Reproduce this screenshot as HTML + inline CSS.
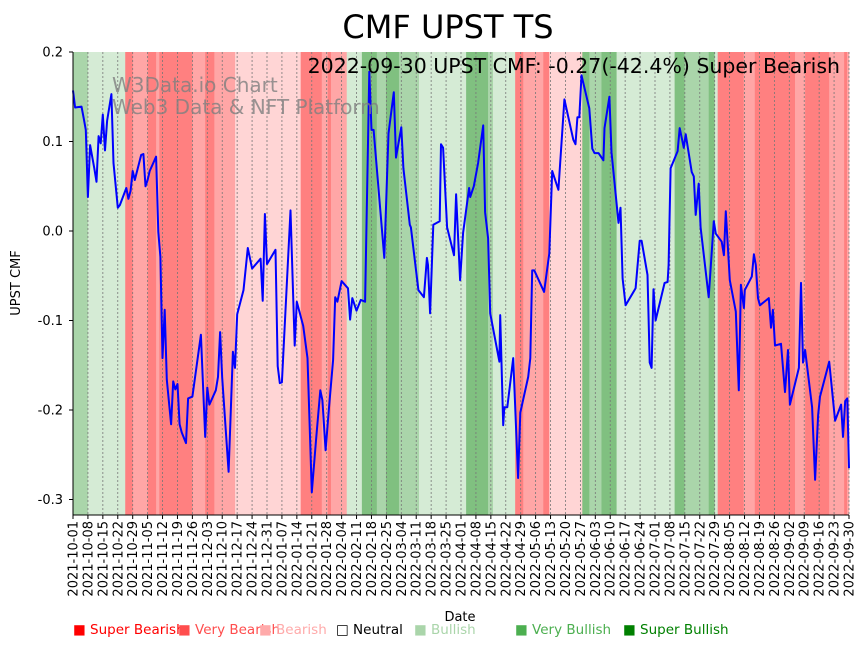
<!DOCTYPE html>
<html><head><meta charset="utf-8"><style>
body{margin:0;background:#fff;width:864px;height:646px;overflow:hidden;font-family:"Liberation Sans","DejaVu Sans",sans-serif}
svg text{font-family:"DejaVu Sans","Liberation Sans",sans-serif}
</style></head><body>
<svg id="chart" width="864" height="646" xmlns="http://www.w3.org/2000/svg">
<g id="bands"></g><g id="grid"></g><g id="line"></g><g id="axes"></g>
<text x="448" y="38" text-anchor="middle" font-size="32">CMF UPST TS</text>
<text x="840" y="73" text-anchor="end" font-size="20.5">2022-09-30 UPST CMF: -0.27(-42.4%) Super Bearish</text>
<text x="112" y="92" font-size="20" fill="#808080" fill-opacity="0.8">W3Data.io Chart</text>
<text x="112" y="114" font-size="20" fill="#808080" fill-opacity="0.8">Web3 Data &amp; NFT Platform</text>
<text transform="translate(20,283) rotate(-90)" text-anchor="middle" font-size="13">UPST CMF</text>
<text x="460" y="621" text-anchor="middle" font-size="13">Date</text>
<g id="legend" font-size="13.5"></g>
</svg>
<script>
const days=[0,1,4,5,6,7,8,10,11,12,13,14,15,16,18,19,21,22,25,26,27,28,29,32,33,34,35,36,39,40,41,42,43,44,46,47,48,49,50,51,53,54,56,60,62,63,64,67,68,69,70,73,75,76,77,80,82,84,88,89,90,91,95,96,97,98,102,104,105,108,110,112,114,116,117,118.5,120,122,123,124,126,129,130,131,133,135,137,139,140,141,146,148,150.5,151.5,154,155,158,158.5,162,164.6,166,166.5,167.5,169,172,172.6,173.6,175.5,178.7,179.7,181.6,183,185.8,186.3,188,190,192.4,193.3,194.7,195.7,200,200.4,201.8,202.3,203.7,206.5,208.8,209.8,213.5,214.5,215.4,216.4,221,223.4,224.8,227.7,230.5,234.7,235.7,236.6,237.5,238.5,242.2,243.6,244.6,246.5,248.8,249.3,251.6,252.6,255.9,256.8,257.8,259.2,263.9,265.8,266.7,269.5,270.5,271.4,272.3,273.3,277.5,278.9,279.4,280.3,283.6,284.6,286.5,287.4,290.2,291.2,292.1,293.5,294.4,298.2,300.6,301.5,304.3,305.3,306.2,308.1,310.9,312.3,313.3,314.7,315.1,318.4,319.4,320.3,321.3,322.2,326.4,327.4,328.3,329.3,332.1,334,335.4,336.3,340.5,341.5,342.4,343.4,346.7,348.1,349.5,350.4,354.7,357.5,360.3,361.2,362.2,363.2,364];
const cmf=[0.157,0.138,0.139,0.126,0.113,0.038,0.096,0.070,0.055,0.106,0.098,0.130,0.090,0.123,0.153,0.076,0.026,0.029,0.048,0.036,0.045,0.067,0.057,0.085,0.086,0.050,0.057,0.067,0.083,-0.001,-0.029,-0.142,-0.088,-0.166,-0.216,-0.168,-0.177,-0.171,-0.216,-0.225,-0.237,-0.187,-0.185,-0.116,-0.230,-0.175,-0.194,-0.178,-0.163,-0.113,-0.164,-0.269,-0.135,-0.153,-0.093,-0.066,-0.019,-0.042,-0.031,-0.078,0.019,-0.037,-0.021,-0.151,-0.170,-0.169,0.023,-0.128,-0.079,-0.106,-0.142,-0.292,-0.234,-0.178,-0.189,-0.245,-0.200,-0.144,-0.074,-0.079,-0.056,-0.064,-0.099,-0.075,-0.089,-0.077,-0.079,0.178,0.113,0.113,-0.030,0.109,0.155,0.082,0.116,0.070,0.007,0.004,-0.066,-0.074,-0.030,-0.038,-0.092,0.007,0.011,0.097,0.093,0.004,-0.027,0.041,-0.055,-0.002,0.048,0.038,0.050,0.076,0.118,0.021,-0.008,-0.092,-0.146,-0.094,-0.217,-0.197,-0.197,-0.142,-0.276,-0.203,-0.163,-0.142,-0.044,-0.044,-0.068,-0.025,0.067,0.046,0.147,0.102,0.097,0.127,0.127,0.174,0.137,0.092,0.087,0.087,0.079,0.115,0.150,0.088,0.009,0.026,-0.053,-0.083,-0.064,-0.011,-0.011,-0.049,-0.147,-0.153,-0.065,-0.100,-0.058,-0.057,-0.038,0.070,0.089,0.115,0.093,0.108,0.066,0.061,0.018,0.053,0.004,-0.074,0.011,-0.003,-0.012,-0.027,0.022,-0.055,-0.090,-0.178,-0.060,-0.086,-0.066,-0.051,-0.026,-0.038,-0.075,-0.083,-0.075,-0.108,-0.088,-0.128,-0.126,-0.180,-0.133,-0.194,-0.153,-0.058,-0.147,-0.133,-0.197,-0.278,-0.206,-0.185,-0.146,-0.212,-0.194,-0.230,-0.190,-0.187,-0.265];
const bandStart=[0,7,24.5,28,35,39,40.5,56,62,66.3,76,106.8,116.7,119.5,121,128.4,135.5,142.5,146.8,152.9,162.3,184.4,194.7,197,207.4,211.2,220.6,223.4,238.9,242.2,247.9,255,282.2,286.9,298.2,301,302.4,314.6,319.8,338.7,343.4,354.7,361.7,363.1];
const bandCat=[5,4,0,1,0,1,0,1,0,1,2,0,1,0,1,4,6,5,6,5,4,6,5,4,0,1,0,2,6,5,6,4,6,5,6,4,0,1,0,1,0,1,0,1];
const yTicks=[0.2,0.1,0.0,-0.1,-0.2,-0.3];
const catNames=["Super Bearish","Very Bearish","Bearish","Neutral","Bullish","Very Bullish","Super Bullish"];
const bandColors=["#ff8080","#ffa6a6","#ffd5d5","#ffffff","#d5ebd5","#aad5aa","#80c080"];
const legendColors=["#ff0000","#ff4d4d","#ffaaaa","#000000","#aad5aa","#4caf50","#008000"];
const legendX=[73,178,259,336,414,515,623];
const NS="http://www.w3.org/2000/svg";
const X0=73,X1=849,Y0=52,Y1=515,DMAX=364;
const xs=d=>X0+d*(X1-X0)/DMAX;
const ys=v=>231-v*895;
function mk(t,a,p){const e=document.createElementNS(NS,t);for(const k in a)e.setAttribute(k,a[k]);p.appendChild(e);return e;}
const bands=document.getElementById('bands');
for(let i=0;i<bandStart.length;i++){
 const s=bandStart[i],e=i+1<bandStart.length?bandStart[i+1]:DMAX;
 const r=mk('rect',{x:xs(s),y:Y0,width:Math.max(0,xs(e)-xs(s)+0.3),height:Y1-Y0,fill:bandColors[bandCat[i]]},bands);
 
 
}
const grid=document.getElementById('grid'),axes=document.getElementById('axes');
const start=new Date(Date.UTC(2021,9,1));
const tickDays=[];for(let d=0;d<=DMAX;d+=7)tickDays.push(d);
tickDays.forEach(d=>{
 const x=xs(d);
 const g=mk('line',{x1:x,x2:x,y1:Y0,y2:Y1,stroke:'#777','stroke-width':0.8,'stroke-dasharray':'2,2'},grid);
 
 
 mk('line',{x1:x,x2:x,y1:Y1,y2:Y1+4,stroke:'#000'},axes);
 const dt=new Date(start.getTime()+d*86400000);
 const t=mk('text',{transform:`translate(${x+4.5},${Y1+6}) rotate(-90)`,'text-anchor':'end','font-size':13},axes);
 t.textContent=dt.toISOString().slice(0,10);
 
 
});
yTicks.forEach(v=>{
 const y=ys(v);
 mk('line',{x1:X0-4,x2:X0,y1:y,y2:y,stroke:'#000'},axes);
 const t=mk('text',{x:X0-10,y:y+4.5,'text-anchor':'end','font-size':13},axes);
 t.textContent=v.toFixed(1);
 
 
});
mk('line',{x1:X0,x2:X0,y1:Y0,y2:Y1,stroke:'#000','stroke-width':1},axes);
mk('line',{x1:X0,x2:X1,y1:Y1,y2:Y1,stroke:'#000','stroke-width':1},axes);
const pts=days.map((d,i)=>xs(d).toFixed(1)+','+ys(cmf[i]).toFixed(1)).join(' ');
const pl=mk('polyline',{points:pts,fill:'none',stroke:'#0000ff','stroke-width':2,'stroke-linejoin':'round'},document.getElementById('line'));


const leg=document.getElementById('legend');
catNames.forEach((n,i)=>{
 const t=mk('text',{x:legendX[i],y:634,fill:i==3?'#000':legendColors[i]},leg);
 t.textContent=(i==3?'\u25A1 ':'\u25A0 ')+n;
 
 
});
</script>
</body></html>
